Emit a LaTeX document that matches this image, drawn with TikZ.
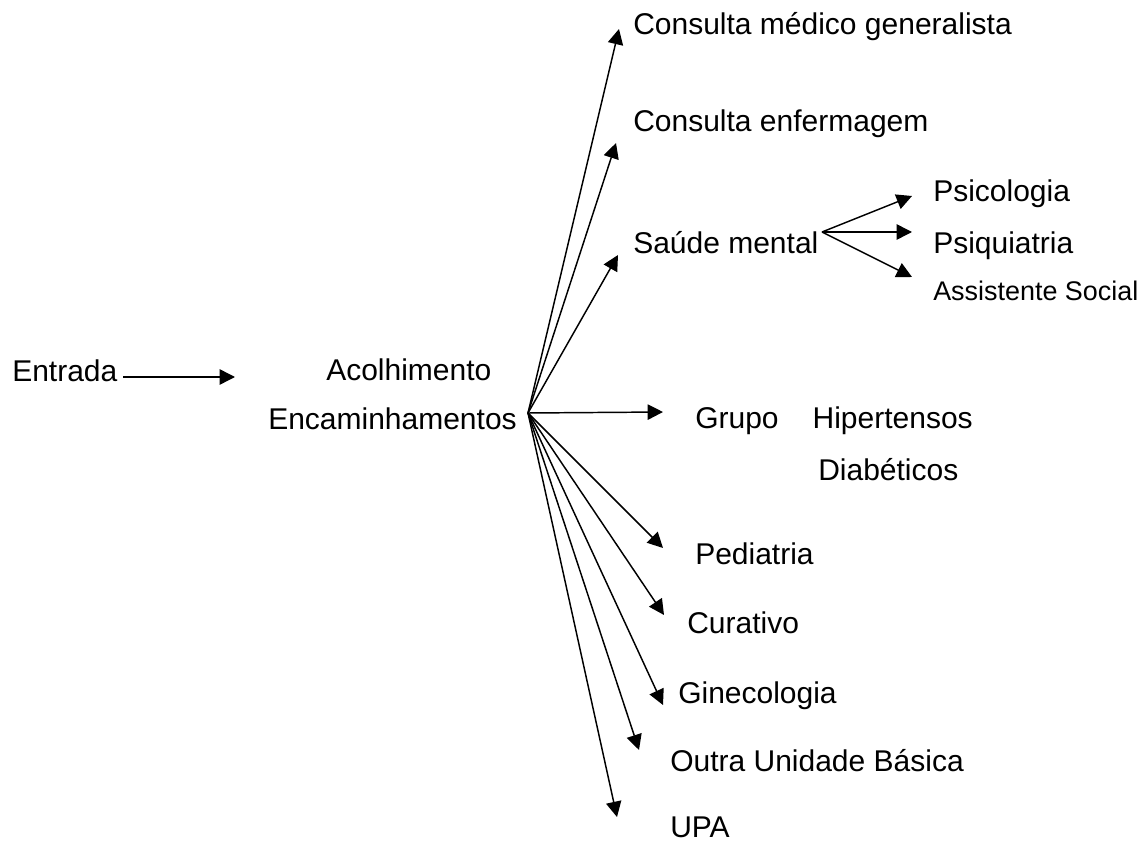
\documentclass[tikz,border=0pt]{standalone}
\usepackage{fontspec}
\setmainfont{Liberation Sans}
\usetikzlibrary{arrows.meta}
\tikzset{
  lbl/.style={anchor=base west, inner sep=0pt, font=\fontsize{22.5}{27}\selectfont},
  arr/.style={-{Triangle[length=11.5pt,width=11.5pt]}, line width=1.1pt}
}
\begin{document}
\begin{tikzpicture}[x=0.75pt,y=-0.75pt]
\useasboundingbox (0,0) rectangle (1146,841);
\node[lbl] (entrada) at (12,382) {Entrada};
\node[lbl] (acolh) at (326,381) {Acolhimento};
\node[lbl] (encam) at (268,430) {Encaminhamentos};
\node[lbl] (medico) at (633,35) {Consulta médico generalista};
\node[lbl] (enferm) at (633,132) {Consulta enfermagem};
\node[lbl] (saude) at (633,254) {Saúde mental};
\node[lbl] (psico) at (933,202) {Psicologia};
\node[lbl] (psiq) at (933,254) {Psiquiatria};
\node[lbl, font=\fontsize{20.2}{24}\selectfont] (social) at (933,301) {Assistente Social};
\node[lbl] (grupo) at (695,429) {Grupo\hspace{25.5pt}Hipertensos};
\node[lbl] (diab) at (818,480) {Diabéticos};
\node[lbl] (pedi) at (695,564) {Pediatria};
\node[lbl] (curat) at (687,633) {Curativo};
\node[lbl] (gineco) at (678,703) {Ginecologia};
\node[lbl] (outra) at (670,771) {Outra Unidade Básica};
\node[lbl] (upa) at (670,837) {UPA};

\coordinate (in-a) at (123,377);
\coordinate (in-b) at (235,377);
\coordinate (hub) at (528,413);
\coordinate (sm) at (822,232);

\draw[arr] (in-a) -- (in-b);
\foreach \tip in {(619,29), (616,143), (618,255), (663,412), (663,548),
                  (664,615), (663,705), (639,750), (617,817)}
  \draw[arr] (hub) -- \tip;
\foreach \tip in {(912,196), (912,232), (912,277)}
  \draw[arr] (sm) -- \tip;
\end{tikzpicture}
\end{document}
